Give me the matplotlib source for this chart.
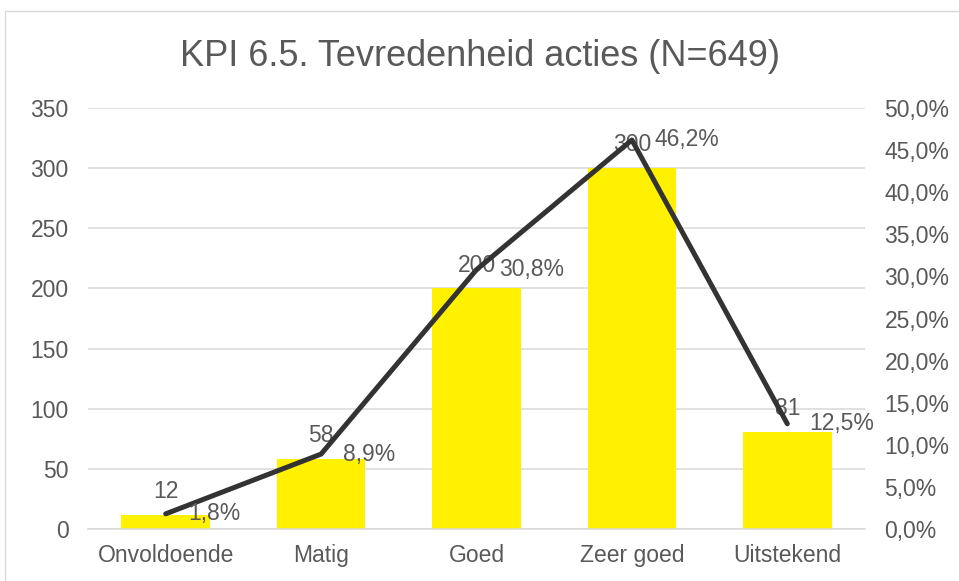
import matplotlib.pyplot as plt
from matplotlib.ticker import FuncFormatter, MultipleLocator
from matplotlib.patches import Rectangle

plt.rcParams['font.family'] = ['Liberation Sans', 'DejaVu Sans']

# data
categories = ['Onvoldoende', 'Matig', 'Goed', 'Zeer goed', 'Uitstekend']
counts = [12, 58, 200, 300, 81]
percents = [1.8, 8.9, 30.8, 46.2, 12.5]

txt = '#595959'
grid = '#d9d9d9'
fs = 16.5

fig = plt.figure(figsize=(9.59, 5.81), dpi=100)
ax = fig.add_axes([88 / 959, 52 / 581, 777 / 959, 421 / 581])
ax2 = ax.twinx()

# outer chart border
fig.patches.append(Rectangle((5 / 959, -0.1), 1.2, (581 - 11) / 581 + 0.1,
                             transform=fig.transFigure, fill=False,
                             edgecolor='#d9d9d9', linewidth=1))

x = list(range(len(categories)))
ax.bar(x, counts, width=0.57, color='#FFF100', zorder=2)
ax.set_ylim(0, 350)
ax.set_xlim(-0.5, len(categories) - 0.5)
ax.yaxis.set_major_locator(MultipleLocator(50))
ax.grid(axis='y', color=grid, linewidth=1.1, zorder=0)
ax.set_axisbelow(True)

ax2.plot(x, percents, color='#333333', linewidth=3.6, solid_capstyle='round',
         solid_joinstyle='round', zorder=3)
ax2.set_ylim(0, 50)
ax2.yaxis.set_major_locator(MultipleLocator(5))
ax2.yaxis.set_major_formatter(FuncFormatter(lambda v, p: f'{v:.1f}%'.replace('.', ',')))

for a in (ax, ax2):
    for s in a.spines.values():
        s.set_visible(False)
    a.tick_params(length=0, labelsize=fs, labelcolor=txt)
ax.spines['bottom'].set_visible(True)
ax.spines['bottom'].set_color(grid)
ax.spines['bottom'].set_linewidth(1.1)
ax.tick_params(axis='y', pad=14)
ax.tick_params(axis='x', pad=11)
ax2.tick_params(axis='y', pad=14)
ax.set_xticks(x)
ax.set_xticklabels(categories)

for i, v in enumerate(counts):
    ax.annotate(str(v), (i, v), xytext=(0, 8.5), textcoords='offset points',
                ha='center', va='bottom', fontsize=fs, color=txt, zorder=4)
for i, p in enumerate(percents):
    ax2.annotate(f'{p:.1f}%'.replace('.', ','), (i, p), xytext=(16, 0),
                 textcoords='offset points', ha='left', va='center',
                 fontsize=fs, color=txt, zorder=4)

fig.text(0.5, (581 - 57) / 581, 'KPI 6.5. Tevredenheid acties (N=649)',
         ha='center', va='center', fontsize=26, color=txt)

fig.savefig('out.png', dpi=100)
